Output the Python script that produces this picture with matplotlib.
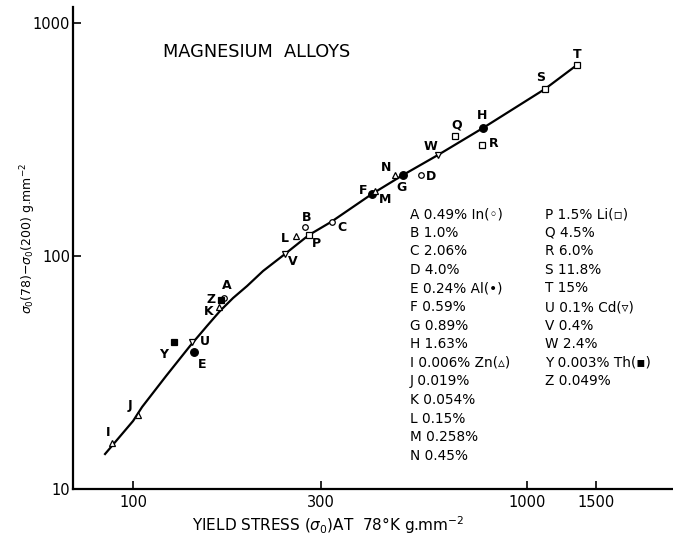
import matplotlib
matplotlib.use("Agg")
import matplotlib.pyplot as plt

# yield stress at 78K (x) and sigma0(78)-sigma0(200) (y), g.mm^-2
in_labels = ["A", "B", "C", "D"]
in_x = [170, 273, 319, 538]
in_y = [65.8, 132.8, 140.4, 223.4]

al_labels = ["E", "F", "G", "H"]
al_x = [143, 403, 485, 772]
al_y = [38.6, 184.6, 222.6, 353]

zn_labels = ["I", "J", "K", "L", "M", "N"]
zn_x = [88.3, 103.1, 165.3, 258.8, 411, 461.5]
zn_y = [15.75, 20.8, 60.4, 122.2, 190, 222.6]

li_labels = ["P", "Q", "R", "S", "T"]
li_x = [280, 657, 767, 1111, 1342]
li_y = [123.1, 328, 299.5, 521, 660]

cd_labels = ["U", "V", "W"]
cd_x = [141.4, 243.1, 595.6]
cd_y = [42.9, 102.0, 271.3]

th_labels = ["Y", "Z"]
th_x = [126.9, 167.0]
th_y = [42.6, 64.9]

# hand drawn trend curve
curve_x = [84.9, 100.0, 105.4, 121.3, 139.5, 154.1, 166.3, 179.4, 194.7,
           213.8, 243.1, 265.4, 279.7, 318.0, 404.2, 484.5, 594.5, 773.3,
           1111, 1339]
curve_y = [14.13, 19.58, 22.48, 30.55, 41.1, 50.1, 58.1, 66.0, 74.3,
           86.2, 102.0, 114.8, 123.1, 139.9, 184.6, 222.6, 271.3, 354.2,
           520.8, 660]

# label offsets in pixels (dx, dy) for each point letter
offsets = {
    "A": (3, 13), "B": (2, 10), "C": (10, -6), "D": (10, -2),
    "E": (8, -12), "F": (-8, 3), "G": (-2, -13), "H": (-1, 13),
    "I": (-4, 11), "J": (-8, 9), "K": (-10, -5), "L": (-11, -3),
    "M": (10, -8), "N": (-9, 7), "P": (7, -9), "Q": (2, 11),
    "R": (12, 1), "S": (-4, 11), "T": (0, 11), "U": (13, 0),
    "V": (8, -8), "W": (-8, 8), "Y": (-10, -12), "Z": (-10, 0),
}

legend_left = ["A 0.49% In(◦)", "B 1.0%", "C 2.06%", "D 4.0%",
               "E 0.24% Al(•)", "F 0.59%", "G 0.89%", "H 1.63%",
               "I 0.006% Zn(▵)", "J 0.019%", "K 0.054%", "L 0.15%",
               "M 0.258%", "N 0.45%"]
legend_right = ["P 1.5% Li(▫)", "Q 4.5%", "R 6.0%", "S 11.8%", "T 15%",
                "U 0.1% Cd(▿)", "V 0.4%", "W 2.4%", "Y 0.003% Th(▪)",
                "Z 0.049%"]

fig = plt.figure(figsize=(6.73, 5.37), dpi=100)
ax = fig.add_axes([0.1085, 0.0894, 0.8915, 0.8976])
ax.set_xscale("log")
ax.set_yscale("log")
ax.set_xlim(70.4, 2348)
ax.set_ylim(10, 1171)

ax.plot(curve_x, curve_y, color="black", lw=1.6, zorder=2)

groups = [
    (in_x, in_y, in_labels, "o", "white", 4.0),
    (al_x, al_y, al_labels, "o", "black", 5.5),
    (zn_x, zn_y, zn_labels, "^", "white", 4.5),
    (li_x, li_y, li_labels, "s", "white", 4.2),
    (cd_x, cd_y, cd_labels, "v", "white", 4.5),
    (th_x, th_y, th_labels, "s", "black", 5.0),
]
for xs, ys, labels, marker, face, size in groups:
    ax.plot(xs, ys, ls="none", marker=marker, ms=size, mfc=face,
            mec="black", mew=0.9, zorder=3)
    for lab, xv, yv in zip(labels, xs, ys):
        dx, dy = offsets[lab]
        ax.annotate(lab, (xv, yv), xytext=(dx, dy), textcoords="offset pixels",
                    ha="center", va="center", fontsize=9, fontweight="bold")

ax.text(0.15, 0.907, "MAGNESIUM  ALLOYS", transform=ax.transAxes,
        fontsize=12.8, va="center", ha="left")

row_h = 18.6 / 482
for i, line in enumerate(legend_left):
    ax.text(0.5612, 0.5704 - i * row_h, line, transform=ax.transAxes,
            fontsize=9.8, va="center", ha="left")
for i, line in enumerate(legend_right):
    ax.text(0.7862, 0.5704 - i * row_h, line, transform=ax.transAxes,
            fontsize=9.8, va="center", ha="left")

for side in ["top", "right"]:
    ax.spines[side].set_visible(False)
for side in ["left", "bottom"]:
    ax.spines[side].set_linewidth(1.6)

ax.set_xticks([100, 300, 1000, 1500])
ax.set_xticklabels(["100", "300", "1000", "1500"])
ax.set_yticks([10, 100, 1000])
ax.set_yticklabels(["10", "100", "1000"])
ax.minorticks_off()
ax.tick_params(axis="both", direction="in", length=6, width=1.2,
               labelsize=10.5, pad=4)
ax.tick_params(axis="y", pad=2)

ax.set_xlabel(r"YIELD STRESS ($\sigma_0$)AT  78°K g.mm$^{-2}$", fontsize=11)
ax.xaxis.set_label_coords(0.425, -0.052)
ax.set_ylabel(r"$\sigma_0$(78)$-\sigma_0$(200) g.mm$^{-2}$", fontsize=9)
ax.yaxis.set_label_coords(-0.058, 0.52)

fig.savefig("out.png", dpi=100)
